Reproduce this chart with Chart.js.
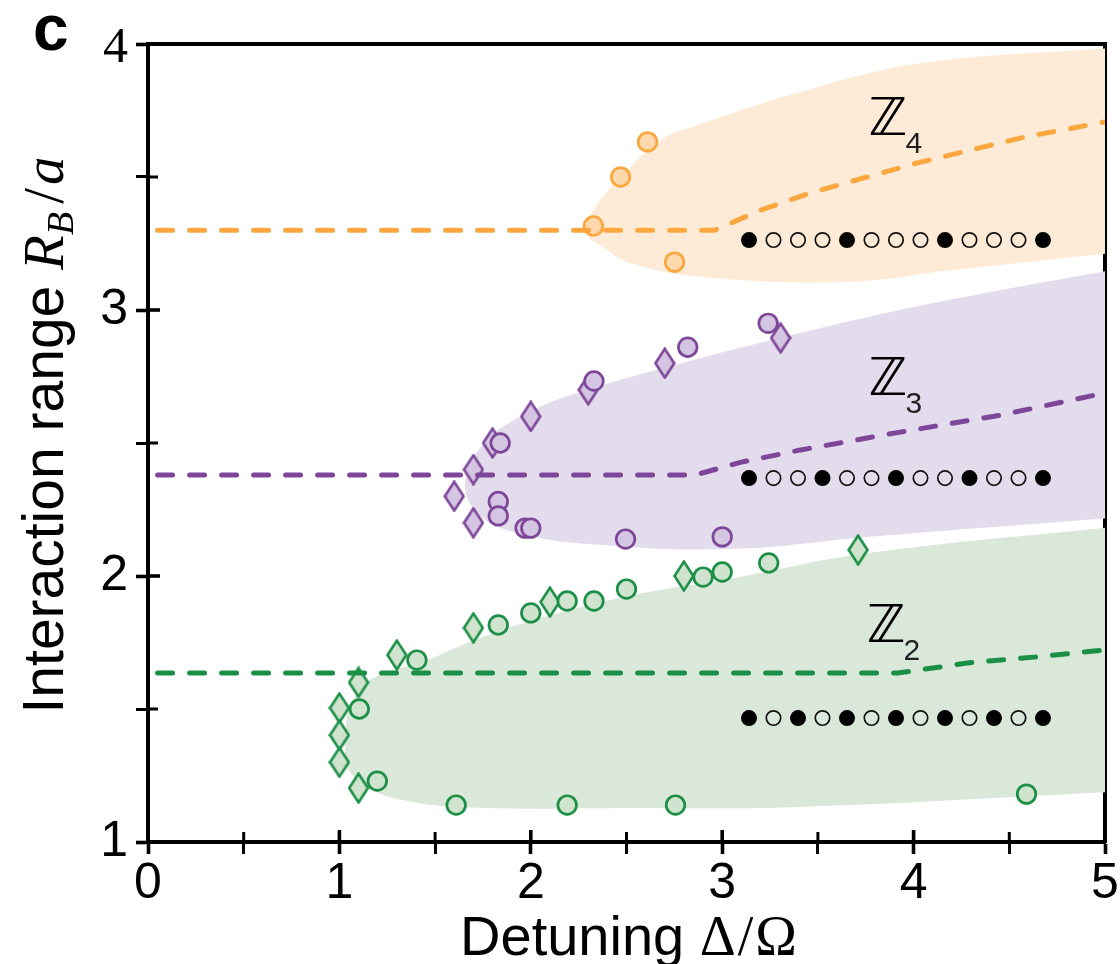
<!DOCTYPE html>
<html>
<head>
<meta charset="utf-8">
<script src="https://cdn.jsdelivr.net/npm/chart.js@4.4.1/dist/chart.umd.min.js"></script>
<style>
  html, body { margin: 0; padding: 0; background: #fff; }
  canvas { display: block; }
</style>
</head>
<body>
<canvas id="phase" width="1120" height="964"></canvas>
<script>
// ---- Phase boundaries: interaction range R_B/a vs detuning Δ/Ω ----

// Z4 phase
const z4Circles = [[2.327, 3.316], [2.469, 3.50], [2.61, 3.632], [2.751, 3.18]];
const z4Theory  = [[0.05, 3.30], [2.96, 3.30], [3.2, 3.375], [3.46, 3.44], [4.02, 3.553], [4.58, 3.65], [5.0, 3.707]];
const z4Region  = [[5.03, 3.214], [4.2, 3.15], [3.65, 3.105], [2.9, 3.124], [2.52, 3.177], [2.38, 3.235],
                   [2.29, 3.29], [2.33, 3.38], [2.505, 3.526], [2.678, 3.639], [2.85, 3.69],
                   [3.46, 3.83], [4.06, 3.93], [5.03, 3.985]];

// Z3 phase
const z3Circles  = [[3.24, 2.95], [2.82, 2.86], [2.33, 2.733], [1.84, 2.50], [1.83, 2.28], [1.83, 2.226],
                    [1.97, 2.18], [2.0, 2.18], [2.495, 2.139], [3.0, 2.147]];
const z3Diamonds = [[3.305, 2.895], [2.70, 2.80], [2.30, 2.70], [2.0, 2.60], [1.80, 2.50], [1.70, 2.40],
                    [1.60, 2.30], [1.70, 2.20]];
const z3Theory   = [[0.05, 2.38], [2.86, 2.38], [3.1, 2.428], [3.41, 2.474], [3.93, 2.541], [4.456, 2.605], [5.0, 2.688]];
const z3Region   = [[5.03, 2.218], [3.76, 2.147], [3.06, 2.102], [2.364, 2.117], [1.93, 2.162], [1.72, 2.237],
                    [1.658, 2.361], [1.773, 2.511], [2.014, 2.624], [2.296, 2.70], [2.714, 2.786],
                    [3.515, 2.932], [4.2, 3.04], [5.03, 3.15]];

// Z2 phase
const z2Circles  = [[1.104, 1.50], [1.198, 1.229], [1.405, 1.684], [1.61, 1.139], [1.83, 1.816], [2.0, 1.861],
                    [2.19, 1.906], [2.19, 1.139], [2.33, 1.906], [2.50, 1.951], [2.90, 1.996], [3.0, 2.015],
                    [2.756, 1.139], [3.243, 2.049], [4.59, 1.18]];
const z2Diamonds = [[1.0, 1.504], [1.0, 1.402], [1.0, 1.30], [1.1, 1.60], [1.1, 1.203], [1.30, 1.703],
                    [1.70, 1.805], [2.10, 1.902], [2.80, 2.0], [3.71, 2.098]];
const z2Theory   = [[0.05, 1.635], [3.917, 1.635], [4.28, 1.673], [4.63, 1.695], [5.0, 1.722]];
const z2Region   = [[5.03, 1.188], [3.41, 1.132], [2.54, 1.128], [1.67, 1.13], [1.33, 1.158], [1.145, 1.207],
                    [1.04, 1.282], [1.03, 1.357], [1.05, 1.50], [1.12, 1.58], [1.2, 1.625], [1.459, 1.684],
                    [1.668, 1.748], [2.014, 1.835], [2.537, 1.929], [3.06, 1.992], [3.76, 2.086], [5.03, 2.184]];

// Atom-chain sketches (1 = excited, 0 = ground)
const chainSites   = [3.14, 3.268, 3.396, 3.524, 3.652, 3.78, 3.908, 4.036, 4.164, 4.292, 4.42, 4.548, 4.676];
const z4Pattern    = [1, 0, 0, 0, 1, 0, 0, 0, 1, 0, 0, 0, 1];
const z3Pattern    = [1, 0, 0, 1, 0, 0, 1, 0, 0, 1, 0, 0, 1];
const z2Pattern    = [1, 0, 1, 0, 1, 0, 1, 0, 1, 0, 1, 0, 1];
const chainLevels  = [3.263, 2.368, 1.466];   // Z4, Z3, Z2

// Phase labels: subscript, ℤ anchor x, ℤ baseline y, subscript baseline y
const phaseNames   = ['4', '3', '2'];
const phaseLabelX  = [3.766, 3.766, 3.756];
const phaseLabelY  = [3.658, 2.68, 1.752];
const phaseSubY    = [3.59, 2.613, 1.684];

// Axis ticks (the top y label is set in a serif face, drawn separately)
const xTickLabels = ['0', '1', '2', '3', '4', '5'];
const yTickLabels = ['1', '2', '3', '4'];

// ---- colours ----
const C = {
  z4: { line: '#f9a73e', fill: '#fdebd7', mark: '#fdd8ad' },
  z3: { line: '#7d4698', fill: '#e3dcec', mark: '#d4c5e2' },
  z2: { line: '#1b8f45', fill: '#d9e8d9', mark: '#cfe3cf' }
};

const pts = arr => arr.map(([x, y]) => ({ x, y }));

function diamondMark(fill, stroke) {
  const c = document.createElement('canvas');
  c.width = 22; c.height = 32;
  const g = c.getContext('2d');
  g.beginPath();
  g.moveTo(11, 1.6); g.lineTo(20.4, 16); g.lineTo(11, 30.4); g.lineTo(1.6, 16); g.closePath();
  g.fillStyle = fill; g.fill();
  g.lineWidth = 2.6; g.strokeStyle = stroke; g.lineJoin = 'miter'; g.stroke();
  return c;
}

function regionSet(data, col) {
  return { data: pts(data), showLine: true, fill: 'shape', backgroundColor: col.fill,
           borderWidth: 0, borderColor: 'rgba(0,0,0,0)', pointRadius: 0, tension: 0.4, order: 10 };
}
function theorySet(data, col) {
  return { data: pts(data), showLine: true, fill: false, borderColor: col.line, borderWidth: 5,
           borderDash: [15, 17], borderCapStyle: 'round', borderJoinStyle: 'round', pointRadius: 0,
           tension: 0, order: 3 };
}
function circleSet(data, col) {
  return { data: pts(data), showLine: false, pointStyle: 'circle', pointRadius: 9.3,
           pointBorderWidth: 2.7, pointBorderColor: col.line, pointBackgroundColor: col.mark, order: 5 };
}
function diamondSet(data, col) {
  return { data: pts(data), showLine: false, pointStyle: diamondMark(col.mark, col.line), pointRadius: 10,
           pointBorderWidth: 0, order: 5 };
}
function chainSet(pattern, level) {
  return { data: chainSites.map(x => ({ x, y: level })), showLine: false, pointStyle: 'circle',
           pointRadius: ctx => pattern[ctx.dataIndex] ? 8 : 7.2,
           pointBorderWidth: ctx => pattern[ctx.dataIndex] ? 0 : 1.7,
           pointBorderColor: '#111',
           pointBackgroundColor: ctx => pattern[ctx.dataIndex] ? '#000' : 'rgba(0,0,0,0)',
           order: 1 };
}

// Extra drawing: inward tick halves, phase labels, axis titles, panel letter
const annotations = {
  id: 'annotations',
  afterDraw(chart) {
    const { ctx, chartArea: a } = chart;
    const x = chart.scales.x, y = chart.scales.y;
    ctx.save();
    ctx.strokeStyle = '#000';
    ctx.lineCap = 'butt';
    x.ticks.forEach(t => {
      if (t.value <= x.min || t.value >= x.max) return;
      const major = Number.isInteger(t.value);
      const px = x.getPixelForValue(t.value);
      ctx.lineWidth = major ? 3.6 : 3;
      ctx.beginPath(); ctx.moveTo(px, a.bottom); ctx.lineTo(px, a.bottom - (major ? 12 : 10)); ctx.stroke();
    });
    y.ticks.forEach(t => {
      if (t.value <= y.min || t.value >= y.max) return;
      const major = Number.isInteger(t.value);
      const py = y.getPixelForValue(t.value);
      ctx.lineWidth = major ? 3.6 : 3;
      ctx.beginPath(); ctx.moveTo(a.left, py); ctx.lineTo(a.left + (major ? 12 : 10), py); ctx.stroke();
    });

    // top y label in serif
    ctx.fillStyle = '#000';
    ctx.textAlign = 'right';
    ctx.textBaseline = 'alphabetic';
    ctx.font = '50px "Liberation Serif"';
    ctx.fillText(yTickLabels[3], a.left - 20, y.getPixelForValue(4) + 18);

    // phase labels ℤ_n
    ctx.textAlign = 'left';
    phaseNames.forEach((n, i) => {
      const lx = x.getPixelForValue(phaseLabelX[i]);
      ctx.fillStyle = '#000';
      ctx.font = '52px "DejaVu Sans"';
      ctx.fillText('\u2124', lx, y.getPixelForValue(phaseLabelY[i]));
      const w = ctx.measureText('\u2124').width;
      ctx.font = '30px "Liberation Sans"';
      ctx.fillStyle = '#222';
      ctx.fillText(n, lx + w - 2, y.getPixelForValue(phaseSubY[i]));
    });

    // axis titles
    ctx.fillStyle = '#000';
    const drawRun = (parts, cx, cy) => {
      let total = 0;
      parts.forEach(p => { ctx.font = p.f; p.w = ctx.measureText(p.t).width; total += p.w + (p.gap || 0); });
      let cur = cx - total / 2;
      parts.forEach(p => { ctx.font = p.f; ctx.fillText(p.t, cur, cy + (p.dy || 0)); cur += p.w + (p.gap || 0); });
    };
    drawRun([
      { t: 'Detuning ', f: '56px "Liberation Sans"' },
      { t: '\u0394', f: '56px "Liberation Serif"', gap: 2 },
      { t: '/', f: '56px "Liberation Serif"', gap: 2 },
      { t: '\u03A9', f: '56px "Liberation Serif"' }
    ], (a.left + a.right) / 2 + 2, 955);

    ctx.save();
    ctx.translate(63, (a.top + a.bottom) / 2 - 8);
    ctx.rotate(-Math.PI / 2);
    drawRun([
      { t: 'Interaction range ', f: '57px "Liberation Sans"' },
      { t: 'R', f: 'italic 57px "Liberation Serif"' },
      { t: 'B', f: 'italic 38px "Liberation Serif"', dy: 10, gap: 8 },
      { t: '/', f: '57px "Liberation Serif"', gap: 3 },
      { t: 'a', f: 'italic 57px "Liberation Serif"' }
    ], 0, 0);
    ctx.restore();

    // panel letter
    ctx.font = 'bold 64px "Liberation Sans"';
    ctx.fillText('c', 33, 50);
    ctx.restore();
  }
};

const tickFont = { family: 'Liberation Sans', size: 50 };

new Chart(document.getElementById('phase'), {
  type: 'line',
  data: {
    datasets: [
      regionSet(z4Region, C.z4), regionSet(z3Region, C.z3), regionSet(z2Region, C.z2),
      circleSet(z4Circles, C.z4),
      circleSet(z3Circles, C.z3), diamondSet(z3Diamonds, C.z3),
      circleSet(z2Circles, C.z2), diamondSet(z2Diamonds, C.z2),
      theorySet(z4Theory, C.z4), theorySet(z3Theory, C.z3), theorySet(z2Theory, C.z2),
      chainSet(z4Pattern, chainLevels[0]), chainSet(z3Pattern, chainLevels[1]), chainSet(z2Pattern, chainLevels[2])
    ]
  },
  options: {
    responsive: false,
    animation: false,
    events: [],
    layout: { padding: 0 },
    plugins: { legend: { display: false }, tooltip: { enabled: false } },
    scales: {
      x: {
        type: 'linear', position: 'bottom', min: 0, max: 5,
        afterFit: s => { s.height = 122; },
        ticks: {
          stepSize: 0.5, autoSkip: false, maxRotation: 0, color: '#000', font: tickFont, padding: 0,
          callback: v => Number.isInteger(v) ? xTickLabels[v] : ''
        },
        grid: { drawOnChartArea: false, tickLength: 12, tickColor: '#000',
                tickWidth: ctx => Number.isInteger(ctx.tick && ctx.tick.value) ? 3.6 : 3 },
        border: { display: true, width: 4, color: '#000' }
      },
      y: {
        type: 'linear', position: 'left', min: 1, max: 4,
        afterFit: s => { s.width = 148; },
        ticks: {
          stepSize: 0.5, autoSkip: false, color: '#000', padding: 8, font: tickFont,
          callback: v => (Number.isInteger(v) && v < 4) ? yTickLabels[v - 1] : ''
        },
        grid: { drawOnChartArea: false, tickLength: 12, tickColor: '#000',
                tickWidth: ctx => Number.isInteger(ctx.tick && ctx.tick.value) ? 3.6 : 3 },
        border: { display: true, width: 4, color: '#000' }
      },
      x2: {
        type: 'linear', position: 'top', min: 0, max: 5,
        afterFit: s => { s.height = 44; },
        ticks: { display: false }, grid: { display: false },
        border: { display: true, width: 4, color: '#000' }
      },
      y2: {
        type: 'linear', position: 'right', min: 1, max: 4,
        afterFit: s => { s.width = 15; },
        ticks: { display: false }, grid: { display: false },
        border: { display: true, width: 4, color: '#000' }
      }
    }
  },
  plugins: [annotations]
});
</script>
</body>
</html>
